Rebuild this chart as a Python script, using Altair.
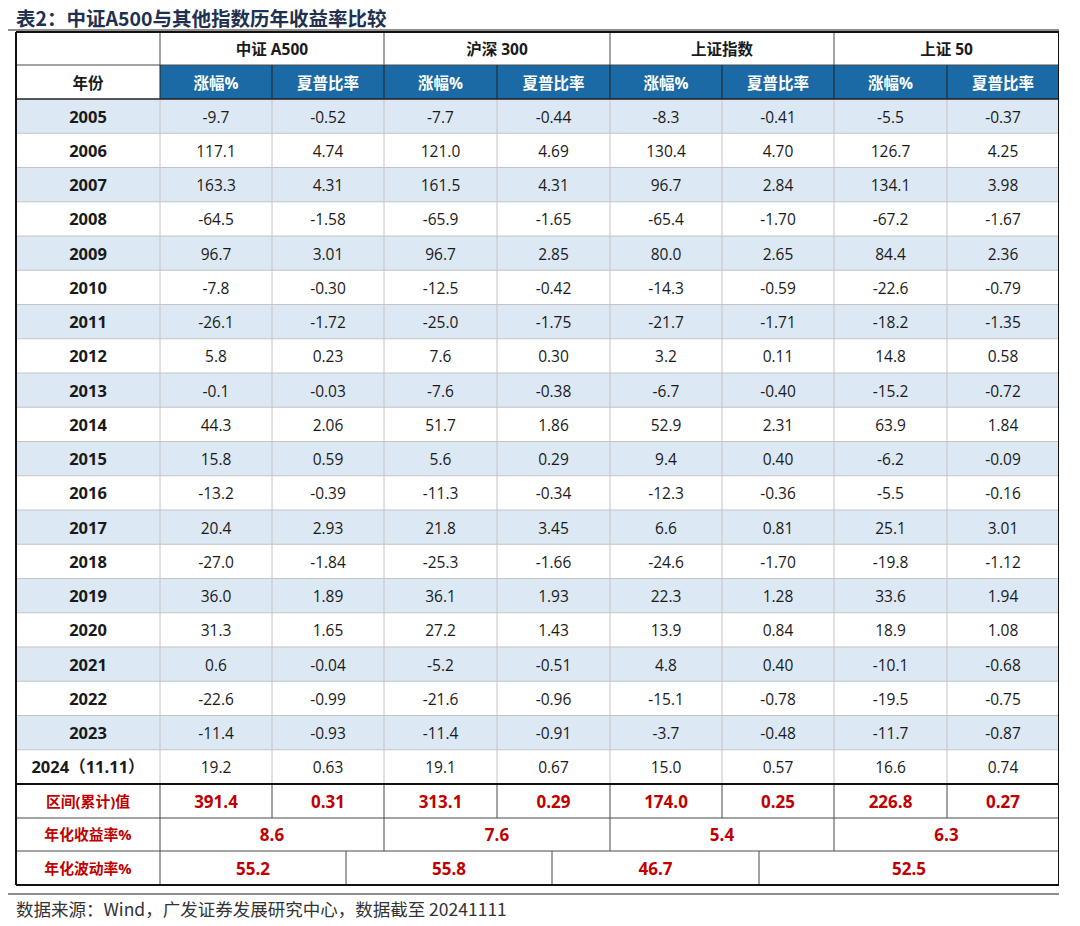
import altair as alt
import pandas as pd

# ---------------- data ----------------
title_text = "表2：中证A500与其他指数历年收益率比较"
source_text = "数据来源：Wind，广发证券发展研究中心，数据截至 20241111"
indices = ["中证 A500", "沪深 300", "上证指数", "上证 50"]
sub_headers = ["涨幅%", "夏普比率"]
year_header = "年份"
years = ["2005", "2006", "2007", "2008", "2009", "2010", "2011", "2012", "2013", "2014",
         "2015", "2016", "2017", "2018", "2019", "2020", "2021", "2022", "2023", "2024（11.11）"]

a500_ret = [-9.7, 117.1, 163.3, -64.5, 96.7, -7.8, -26.1, 5.8, -0.1, 44.3,
            15.8, -13.2, 20.4, -27.0, 36.0, 31.3, 0.6, -22.6, -11.4, 19.2]
a500_sharpe = [-0.52, 4.74, 4.31, -1.58, 3.01, -0.30, -1.72, 0.23, -0.03, 2.06,
               0.59, -0.39, 2.93, -1.84, 1.89, 1.65, -0.04, -0.99, -0.93, 0.63]
hs300_ret = [-7.7, 121.0, 161.5, -65.9, 96.7, -12.5, -25.0, 7.6, -7.6, 51.7,
             5.6, -11.3, 21.8, -25.3, 36.1, 27.2, -5.2, -21.6, -11.4, 19.1]
hs300_sharpe = [-0.44, 4.69, 4.31, -1.65, 2.85, -0.42, -1.75, 0.30, -0.38, 1.86,
                0.29, -0.34, 3.45, -1.66, 1.93, 1.43, -0.51, -0.96, -0.91, 0.67]
szzs_ret = [-8.3, 130.4, 96.7, -65.4, 80.0, -14.3, -21.7, 3.2, -6.7, 52.9,
            9.4, -12.3, 6.6, -24.6, 22.3, 13.9, 4.8, -15.1, -3.7, 15.0]
szzs_sharpe = [-0.41, 4.70, 2.84, -1.70, 2.65, -0.59, -1.71, 0.11, -0.40, 2.31,
               0.40, -0.36, 0.81, -1.70, 1.28, 0.84, 0.40, -0.78, -0.48, 0.57]
sz50_ret = [-5.5, 126.7, 134.1, -67.2, 84.4, -22.6, -18.2, 14.8, -15.2, 63.9,
            -6.2, -5.5, 25.1, -19.8, 33.6, 18.9, -10.1, -19.5, -11.7, 16.6]
sz50_sharpe = [-0.37, 4.25, 3.98, -1.67, 2.36, -0.79, -1.35, 0.58, -0.72, 1.84,
               -0.09, -0.16, 3.01, -1.12, 1.94, 1.08, -0.68, -0.75, -0.87, 0.74]

summary_labels = ["区间(累计)值", "年化收益率%", "年化波动率%"]
cum_ret = [391.4, 313.1, 174.0, 226.8]
cum_sharpe = [0.31, 0.29, 0.25, 0.27]
ann_ret = [8.6, 7.6, 5.4, 6.3]
ann_vol = [55.2, 55.8, 46.7, 52.5]

# ---------------- layout ----------------
col_widths = [144, 112, 112, 113, 113, 112, 112, 113, 112]
col_edges = [0]
for w in col_widths:
    col_edges.append(col_edges[-1] + w)
W = col_edges[-1]
vol_edges = [0, 144, 330, 536, 743, W]

row_heights = [33, 34] + [34.25] * 20 + [34, 33, 34]
row_edges = [0]
for h in row_heights:
    row_edges.append(row_edges[-1] + h)
H = row_edges[-1]

BLUE = "#1b6aa5"
STRIPE = "#dce8f4"
RED = "#c00000"
TXT = "#1a1a1a"
LIGHT = "#c4c4c4"
DARK = "#4a4a4a"
FONT = "Open Sans, Noto Sans CJK SC, sans-serif"
CJK = "Noto Sans CJK SC"

fills, lines, norm_txt, bold_txt = [], [], [], []


def cx(i):
    return (col_edges[i] + col_edges[i + 1]) / 2


def cy(r):
    return (row_edges[r] + row_edges[r + 1]) / 2


# fills
for j in range(1, 9):
    fills.append(dict(x=col_edges[j], x2=col_edges[j + 1], y=row_edges[1], y2=row_edges[2], c=BLUE))
for k in range(len(years)):
    if k % 2 == 0:
        r = 2 + k
        fills.append(dict(x=0, x2=W, y=row_edges[r], y2=row_edges[r + 1], c=STRIPE))

# light grid in data section
for r in range(3, 22):
    lines.append(dict(x=0, x2=W, y=row_edges[r], y2=row_edges[r], c=LIGHT, w=1))
for e in col_edges[1:-1]:
    lines.append(dict(x=e, x2=e, y=row_edges[2], y2=row_edges[22], c=LIGHT, w=1))
# header lines
for e in col_edges[1:-1:2]:
    lines.append(dict(x=e, x2=e, y=row_edges[0], y2=row_edges[1], c=DARK, w=1))
lines.append(dict(x=0, x2=W, y=row_edges[1], y2=row_edges[1], c=DARK, w=1))
for e in col_edges[1:-1]:
    lines.append(dict(x=e, x2=e, y=row_edges[1], y2=row_edges[2], c="#222222", w=1))
lines.append(dict(x=0, x2=W, y=row_edges[2], y2=row_edges[2], c="#222222", w=1.5))
# summary section
for e in col_edges[1:-1]:
    lines.append(dict(x=e, x2=e, y=row_edges[22], y2=row_edges[23], c=DARK, w=1))
lines.append(dict(x=0, x2=W, y=row_edges[23], y2=row_edges[23], c=DARK, w=1))
for e in col_edges[1:-1:2]:
    lines.append(dict(x=e, x2=e, y=row_edges[23], y2=row_edges[24], c=DARK, w=1))
lines.append(dict(x=0, x2=W, y=row_edges[24], y2=row_edges[24], c=DARK, w=1))
for e in vol_edges[1:-1]:
    lines.append(dict(x=e, x2=e, y=row_edges[24], y2=row_edges[25], c=DARK, w=1))
lines.append(dict(x=0, x2=W, y=row_edges[22], y2=row_edges[22], c="#111111", w=2.2))
# outer border
for (a, b, c_, d) in [(0, W, 0, 0), (0, W, H, H), (0, 0, 0, H), (W, W, 0, H)]:
    lines.append(dict(x=a, x2=b, y=c_, y2=d, c="#111111", w=2))
# page rules above and below table
lines.append(dict(x=-11, x2=1056, y=-2, y2=-2, c="#6a6a6a", w=1.5))
lines.append(dict(x=-11, x2=1056, y=862, y2=862, c="#6a6a6a", w=1.5))

# header texts
for g, name in enumerate(indices):
    bold_txt.append(dict(x=(col_edges[1 + 2 * g] + col_edges[3 + 2 * g]) / 2, y=cy(0), t=name, c=TXT, s=15.5))
    for s, sh in enumerate(sub_headers):
        bold_txt.append(dict(x=cx(1 + 2 * g + s), y=cy(1), t=sh, c="#ffffff", s=15.5))
bold_txt.append(dict(x=cx(0), y=cy(1), t=year_header, c=TXT, s=15.5))

series = [a500_ret, a500_sharpe, hs300_ret, hs300_sharpe, szzs_ret, szzs_sharpe, sz50_ret, sz50_sharpe]
for k, yr in enumerate(years):
    r = 2 + k
    bold_txt.append(dict(x=cx(0), y=cy(r), t=yr, c=TXT, s=16.5))
    for j, s in enumerate(series):
        fmt = f"{s[k]:.1f}" if j % 2 == 0 else f"{s[k]:.2f}"
        norm_txt.append(dict(x=cx(1 + j), y=cy(r), t=fmt, c=TXT))

for r, lab in zip([22, 23, 24], summary_labels):
    bold_txt.append(dict(x=cx(0), y=cy(r), t=lab, c=RED, s=14.8))
for g in range(4):
    bold_txt.append(dict(x=cx(1 + 2 * g), y=cy(22), t=f"{cum_ret[g]:.1f}", c=RED, s=17))
    bold_txt.append(dict(x=cx(2 + 2 * g), y=cy(22), t=f"{cum_sharpe[g]:.2f}", c=RED, s=17))
    bold_txt.append(dict(x=(col_edges[1 + 2 * g] + col_edges[3 + 2 * g]) / 2, y=cy(23),
                         t=f"{ann_ret[g]:.1f}", c=RED, s=17))
    bold_txt.append(dict(x=(vol_edges[1 + g] + vol_edges[2 + g]) / 2, y=cy(24),
                         t=f"{ann_vol[g]:.1f}", c=RED, s=17))

xs = alt.Scale(domain=[0, W], nice=False, zero=False)
ys = alt.Scale(domain=[0, H], nice=False, zero=False, reverse=True)
X = lambda f: alt.X(f, type="quantitative", scale=xs, axis=None)
Y = lambda f: alt.Y(f, type="quantitative", scale=ys, axis=None)

fill_layer = alt.Chart(pd.DataFrame(fills)).mark_rect(strokeWidth=0).encode(
    x=X("x"), x2="x2", y=Y("y"), y2="y2", color=alt.Color("c:N", scale=None))

line_layer = alt.Chart(pd.DataFrame(lines)).mark_rule().encode(
    x=X("x"), x2="x2", y=Y("y"), y2="y2",
    color=alt.Color("c:N", scale=None), strokeWidth=alt.StrokeWidth("w:Q", scale=None))

norm_layer = alt.Chart(pd.DataFrame(norm_txt)).mark_text(
    font=FONT, fontSize=15.5, align="center", baseline="middle", dy=1.5).encode(
    x=X("x"), y=Y("y"), text="t:N", color=alt.Color("c:N", scale=None))

bold_layer = alt.Chart(pd.DataFrame(bold_txt)).mark_text(
    font=FONT, fontWeight="bold", align="center", baseline="middle", dy=1.5).encode(
    x=X("x"), y=Y("y"), text="t:N", color=alt.Color("c:N", scale=None),
    size=alt.Size("s:Q", scale=None))

title_layer = alt.Chart(pd.DataFrame([dict(x=0, y=-12.5, t=title_text)])).mark_text(
    font=CJK, fontSize=19.5, fontWeight="bold", align="left", baseline="middle",
    color="#1f3050").encode(x=X("x"), y=Y("y"), text="t:N")

source_layer = alt.Chart(pd.DataFrame([dict(x=0, y=879, t=source_text)])).mark_text(
    font=CJK, fontSize=17.5, align="left", baseline="middle", color="#333333"
).encode(x=X("x"), y=Y("y"), text="t:N")

chart = alt.layer(fill_layer, line_layer, norm_layer, bold_layer, title_layer, source_layer).properties(
    width=W, height=H,
    autosize=alt.AutoSizeParams(type="none"),
    padding={"left": 8, "top": 24, "right": 0, "bottom": 40},
).configure_view(stroke=None)

chart.save("out.html", embed_options={"renderer": "svg", "actions": False})
